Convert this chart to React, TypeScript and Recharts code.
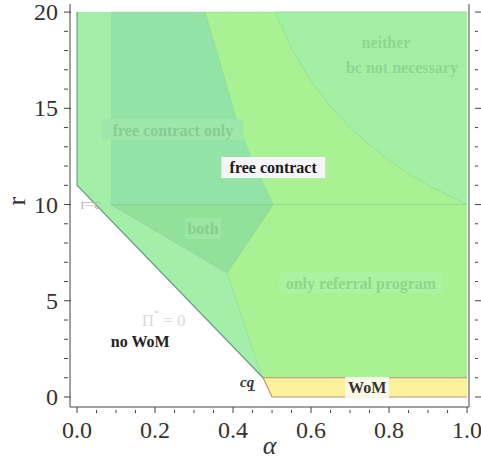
import React from 'react'
import { ComposedChart, Area, Line, XAxis, YAxis, ReferenceDot } from 'recharts'

// tick values
const alphaTicks = [0, 0.05, 0.1, 0.15, 0.2, 0.25, 0.3, 0.35, 0.4, 0.45, 0.5, 0.55, 0.6, 0.65, 0.7, 0.75, 0.8, 0.85, 0.9, 0.95, 1]
const rTicks = [0, 1, 2, 3, 4, 5, 6, 7, 8, 9, 10, 11, 12, 13, 14, 15, 16, 17, 18, 19, 20]

// whole region where word of mouth pays (above the no-WoM line)
const outerAlpha = [0, 0.477, 1]
const outerLow = [11, 1, 1]
const outerHigh = [20, 20, 20]

// referral program region (top part gets covered by the other regions)
const referralAlpha = [0.328, 0.385, 0.475, 1]
const referralLow = [20, 6.44, 1, 1]
const referralHigh = [20, 20, 20, 20]

// neither region, upper right
const neitherAlpha = [0.508, 0.55, 0.6, 0.65, 0.7, 0.75, 0.8, 0.85, 0.9, 0.95, 1]
const neitherLow = [20, 18.1, 16.4, 15.1, 14.0, 13.1, 12.3, 11.6, 11.0, 10.5, 10]
const neitherHigh = [20, 20, 20, 20, 20, 20, 20, 20, 20, 20, 20]

// free contract only
const freeAlpha = [0.087, 0.328, 0.365, 0.4, 0.418, 0.445, 0.475, 0.503]
const freeLow = [10, 10, 10, 10, 10, 10, 10, 10]
const freeHigh = [20, 20, 17.5, 15, 13.9, 12.5, 11.2, 10]

// both
const bothAlpha = [0.087, 0.385, 0.503]
const bothLow = [10, 6.44, 10]
const bothHigh = [10, 10, 10]

// WoM strip
const womAlpha = [0.477, 0.5, 1]
const womLow = [1, 0, 0]
const womHigh = [1, 1, 1]

// outline of the no-WoM boundary
const edgeAlpha = [0, 0, 0.477]
const edgeR = [20, 11, 1]

const rcAlpha = [0.087, 1]
const rcR = [10, 10]

const rows = (a: number[], lo: number[], hi: number[]) =>
  a.map((v, i) => ({ alpha: v, range: [lo[i], hi[i]] }))
const pts = (a: number[], r: number[]) => a.map((v, i) => ({ alpha: v, r: r[i] }))

const SERIF = '"Liberation Serif", "Times New Roman", serif'
const AX = '#444'

const majorA = (v: number) => Math.abs(v * 5 - Math.round(v * 5)) < 1e-6

function BottomTick(props: any) {
  const { x, y, payload } = props
  const v = payload.value
  const m = majorA(v)
  return (
    <g>
      <line x1={x} x2={x} y1={y} y2={y - (m ? 6 : 3)} stroke={AX} />
      {m && (
        <text x={x} y={y + 25} textAnchor="middle" fontFamily={SERIF} fontSize={24} fill="#333">
          {v.toFixed(1)}
        </text>
      )}
    </g>
  )
}

function TopTick(props: any) {
  const { x, y, payload } = props
  const m = majorA(payload.value)
  return <line x1={x} x2={x} y1={y} y2={y + (m ? 6 : 3)} stroke={AX} />
}

function LeftTick(props: any) {
  const { x, y, payload } = props
  const v = payload.value
  const m = v % 5 === 0
  return (
    <g>
      <line x1={x} x2={x + (m ? 7 : 4)} y1={y} y2={y} stroke={AX} />
      {m && (
        <text x={x - 6} y={y + 8} textAnchor="end" fontFamily={SERIF} fontSize={24} fill="#333">
          {v}
        </text>
      )}
    </g>
  )
}

function RightTick(props: any) {
  const { x, y, payload } = props
  const m = payload.value % 5 === 0
  return <line x1={x} x2={x + (m ? 6 : 3)} y1={y} y2={y} stroke={AX} />
}

function tag(text: string, color: string, bg: string | null, size = 16, w?: number) {
  return (p: any) => {
    const width = w ?? text.length * size * 0.47 + 6
    return (
      <g>
        {bg && <rect x={p.cx - width / 2} y={p.cy - size / 2 - 3} width={width} height={size + 5} fill={bg} />}
        <text
          x={p.cx}
          y={p.cy}
          textAnchor="middle"
          dominantBaseline="central"
          fontFamily={SERIF}
          fontWeight="bold"
          fontSize={size}
          fill={color}
        >
          {text}
        </text>
      </g>
    )
  }
}

function PiLabel(p: any) {
  return (
    <text x={p.cx} y={p.cy} textAnchor="middle" dominantBaseline="central" fontFamily={SERIF} fontSize={17} fill="#dadada">
      Π<tspan dy={-7} fontSize={10}>*</tspan>
      <tspan dy={7}> = 0</tspan>
    </text>
  )
}

function RcLabel(p: any) {
  return (
    <text x={p.cx} y={p.cy} textAnchor="middle" dominantBaseline="central" fontFamily={SERIF} fontSize={15} fill="#b4b8b4">
      r=c
    </text>
  )
}

function CqLabel(p: any) {
  return (
    <g>
      <text x={p.cx} y={p.cy} textAnchor="middle" dominantBaseline="central" fontFamily={SERIF} fontSize={15} fontWeight="bold" fontStyle="italic" fill="#333">
        cq
      </text>
      <line x1={p.cx + 1} x2={p.cx + 8} y1={p.cy + 9} y2={p.cy + 9} stroke="#444" />
    </g>
  )
}

export default function App() {
  const ids = { xAxisId: 'b', yAxisId: 'l' }
  return (
    <div style={{ position: 'absolute', left: 0, top: 0, background: '#fff' }}>
      <ComposedChart width={481} height={476} margin={{ top: 4, right: 0, bottom: 0, left: 0 }}>
        <XAxis
          xAxisId="b"
          dataKey="alpha"
          type="number"
          domain={[-0.018, 1.005]}
          ticks={alphaTicks}
          interval={0}
          tickLine={false}
          tickMargin={0}
          height={69}
          stroke={AX}
          tick={BottomTick}
          allowDataOverflow
          label={{ value: 'α', position: 'insideBottom', offset: 22, fontFamily: SERIF, fontStyle: 'italic', fontSize: 26, fill: '#333' }}
        />
        <XAxis
          xAxisId="t"
          orientation="top"
          type="number"
          domain={[-0.018, 1.005]}
          ticks={alphaTicks}
          interval={0}
          tickLine={false}
          tickMargin={0}
          height={0}
          stroke={AX}
          tick={TopTick}
          allowDataOverflow
        />
        <YAxis
          yAxisId="l"
          type="number"
          domain={[-0.52, 20.42]}
          ticks={rTicks}
          interval={0}
          tickLine={false}
          tickMargin={0}
          width={70}
          stroke={AX}
          tick={LeftTick}
          allowDataOverflow
          label={{ value: 'r', angle: -90, position: 'insideLeft', offset: 16, fontFamily: SERIF, fontSize: 26, fill: '#333' }}
        />
        <YAxis
          yAxisId="r"
          orientation="right"
          type="number"
          domain={[-0.52, 20.42]}
          ticks={rTicks}
          interval={0}
          tickLine={false}
          tickMargin={0}
          width={12}
          stroke={AX}
          tick={RightTick}
          allowDataOverflow
        />

        <Area {...ids} data={rows(outerAlpha, outerLow, outerHigh)} dataKey="range" type="linear" fill="#a3eea8" fillOpacity={1} stroke="none" isAnimationActive={false} />
        <Area {...ids} data={rows(referralAlpha, referralLow, referralHigh)} dataKey="range" type="linear" fill="#a8f294" fillOpacity={1} stroke="#96dc96" strokeOpacity={0.6} isAnimationActive={false} />
        <Area {...ids} data={rows(neitherAlpha, neitherLow, neitherHigh)} dataKey="range" type="linear" fill="#a3f0a4" fillOpacity={1} stroke="#90d898" strokeOpacity={0.7} isAnimationActive={false} />
        <Area {...ids} data={rows(freeAlpha, freeLow, freeHigh)} dataKey="range" type="linear" fill="#94e3a6" fillOpacity={1} stroke="#8cd79c" strokeOpacity={0.6} isAnimationActive={false} />
        <Area {...ids} data={rows(bothAlpha, bothLow, bothHigh)} dataKey="range" type="linear" fill="#92e19b" fillOpacity={1} stroke="#88d292" strokeOpacity={0.6} isAnimationActive={false} />
        <Line {...ids} data={pts(rcAlpha, rcR)} dataKey="r" type="linear" stroke="#8ed58e" strokeOpacity={0.7} dot={false} isAnimationActive={false} />
        <Area {...ids} data={rows(womAlpha, womLow, womHigh)} dataKey="range" type="linear" fill="#fdf29b" fillOpacity={1} stroke="#bf8f82" strokeWidth={1.2} isAnimationActive={false} />
        <Line {...ids} data={pts(edgeAlpha, edgeR)} dataKey="r" type="linear" stroke="#6e9a8c" strokeWidth={1.2} dot={false} isAnimationActive={false} />

        <ReferenceDot {...ids} x={0.246} y={13.87} r={1} shape={tag('free contract only', '#86cd93', '#9be8aa')} />
        <ReferenceDot {...ids} x={0.503} y={11.9} r={1} shape={tag('free contract', '#1a1a1a', '#f6f6fa')} />
        <ReferenceDot {...ids} x={0.323} y={8.73} r={1} shape={tag('both', '#84ce8e', '#9ae6a2')} />
        <ReferenceDot {...ids} x={0.728} y={5.92} r={1} shape={tag('only referral program', '#8fd68f', '#abf39f')} />
        <ReferenceDot {...ids} x={0.792} y={18.44} r={1} shape={tag('neither', '#8ed695', null)} />
        <ReferenceDot {...ids} x={0.833} y={17.14} r={1} shape={tag('bc not necessary', '#8ed695', null)} />
        <ReferenceDot {...ids} x={0.744} y={0.47} r={1} shape={tag('WoM', '#333', '#fbf9e8', 16, 44)} />
        <ReferenceDot {...ids} x={0.222} y={3.98} r={1} shape={PiLabel} />
        <ReferenceDot {...ids} x={0.162} y={2.9} r={1} shape={tag('no WoM', '#222', null)} />
        <ReferenceDot {...ids} x={0.035} y={10.03} r={1} shape={RcLabel} />
        <ReferenceDot {...ids} x={0.436} y={0.8} r={1} shape={CqLabel} />
      </ComposedChart>
    </div>
  )
}
